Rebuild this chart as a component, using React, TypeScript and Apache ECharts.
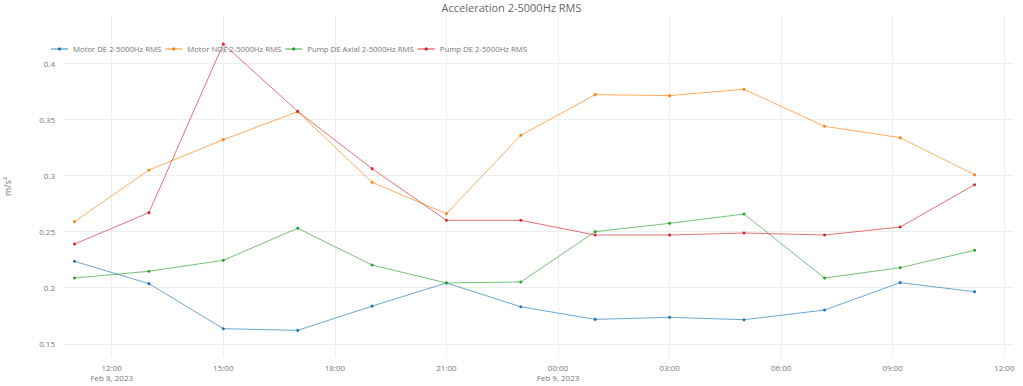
import React, { useEffect, useRef } from "react";
import * as echarts from "echarts";

const times = [
  "2023-02-08T11:00", "2023-02-08T13:00", "2023-02-08T15:00", "2023-02-08T17:00",
  "2023-02-08T19:00", "2023-02-08T21:00", "2023-02-08T23:00", "2023-02-09T01:00",
  "2023-02-09T03:00", "2023-02-09T05:00", "2023-02-09T07:10", "2023-02-09T09:12",
  "2023-02-09T11:12",
];

const motorDE = [0.2235, 0.2036, 0.1635, 0.162, 0.1836, 0.2042, 0.183, 0.1718, 0.1736, 0.1715, 0.1801, 0.2045, 0.1964];
const motorNDE = [0.2588, 0.3048, 0.3318, 0.3567, 0.2938, 0.2659, 0.3357, 0.3719, 0.371, 0.3767, 0.3437, 0.3336, 0.3006];
const pumpDEAxial = [0.2086, 0.2146, 0.2244, 0.2529, 0.2202, 0.2042, 0.2051, 0.2499, 0.2573, 0.2656, 0.2086, 0.2178, 0.2333];
const pumpDE = [0.2389, 0.2668, 0.417, 0.357, 0.306, 0.26, 0.26, 0.2469, 0.2469, 0.2487, 0.2469, 0.254, 0.2917];

const seriesNames = ["Motor DE 2-5000Hz RMS", "Motor NDE 2-5000Hz RMS", "Pump DE Axial 2-5000Hz RMS", "Pump DE 2-5000Hz RMS"];
const colors = ["#1f77b4", "#ff7f0e", "#2ca02c", "#d62728"];

const yTicks = [0.15, 0.2, 0.25, 0.3, 0.35, 0.4];
const xTicks = [
  "2023-02-08T12:00", "2023-02-08T15:00", "2023-02-08T18:00", "2023-02-08T21:00",
  "2023-02-09T00:00", "2023-02-09T03:00", "2023-02-09T06:00", "2023-02-09T09:00",
  "2023-02-09T12:00",
];
const xMin = "2023-02-08T10:43";
const xMax = "2023-02-09T12:14";
const yMin = 0.1374;
const yMax = 0.4428;

const ts = (s: string) => new Date(s).getTime();
const months = ["Jan", "Feb", "Mar", "Apr", "May", "Jun", "Jul", "Aug", "Sep", "Oct", "Nov", "Dec"];
const pad = (n: number) => (n < 10 ? "0" + n : "" + n);

export default function App() {
  const ref = useRef<HTMLDivElement>(null);
  useEffect(() => {
    if (!ref.current) return;
    const chart = echarts.init(ref.current, undefined, { renderer: "svg" });
    const allData = [motorDE, motorNDE, pumpDEAxial, pumpDE];
    const font = "'Open Sans', 'Noto Sans', sans-serif";
    const xTickVals = xTicks.map(ts);
    chart.setOption({
      animation: false,
      backgroundColor: "#ffffff",
      textStyle: { fontFamily: font },
      title: {
        text: "Acceleration 2-5000Hz RMS",
        left: "center",
        top: -3,
        textStyle: { fontFamily: font, fontSize: 11, fontWeight: "normal", color: "#666" },
      },
      legend: {
        left: 45,
        top: 40,
        itemWidth: 17,
        itemHeight: 4,
        itemGap: 3,
        textStyle: { fontFamily: font, fontSize: 7.75, color: "#777" },
        lineStyle: { width: 2, opacity: 0.45 },
        data: seriesNames,
      },
      grid: { left: 64, right: 10, top: 15, bottom: 28, containLabel: false, outerBoundsMode: "none" },
      xAxis: {
        type: "value",
        min: ts(xMin),
        max: ts(xMax),
        axisLine: { show: false },
        axisTick: { show: false, customValues: xTickVals },
        splitLine: { show: true, lineStyle: { color: "#eeeeee", width: 1 } },
        axisLabel: {
          customValues: xTickVals,
          fontFamily: font,
          fontSize: 8,
          color: "#777",
          margin: 4,
          lineHeight: 10,
          verticalAlign: "top",
          formatter: (v: number) => {
            const d = new Date(v);
            const t = pad(d.getHours()) + ":" + pad(d.getMinutes());
            if (d.getHours() === 0 || v === xTickVals[0]) {
              return t + "\n" + months[d.getMonth()] + " " + d.getDate() + ", " + d.getFullYear();
            }
            return t + "\n ";
          },
        },
      },
      yAxis: {
        type: "value",
        min: yMin,
        max: yMax,
        name: "m/s²",
        nameLocation: "middle",
        nameGap: 52,
        nameTextStyle: { fontFamily: font, fontSize: 9, color: "#777" },
        axisLine: { show: false },
        axisTick: { show: false, customValues: yTicks },
        splitLine: { show: true, lineStyle: { color: "#eeeeee", width: 1 } },
        axisLabel: {
          customValues: yTicks,
          fontFamily: font,
          fontSize: 8,
          color: "#777",
          margin: 9,
          formatter: (v: number) => String(Number(v.toFixed(3))),
        },
      },
      series: seriesNames.map((name, i) => ({
        name,
        type: "line",
        data: times.map((t, j) => [ts(t), allData[i][j]]),
        symbol: "circle",
        symbolSize: 3,
        showSymbol: true,
        itemStyle: { color: colors[i] },
        lineStyle: { color: colors[i], width: 1, opacity: 0.65 },
        emphasis: { disabled: true },
      })),
    });
    return () => chart.dispose();
  }, []);
  return (
    <div
      ref={ref}
      style={{ position: "fixed", left: 0, top: 0, width: 1023, height: 386 }}
    />
  );
}
